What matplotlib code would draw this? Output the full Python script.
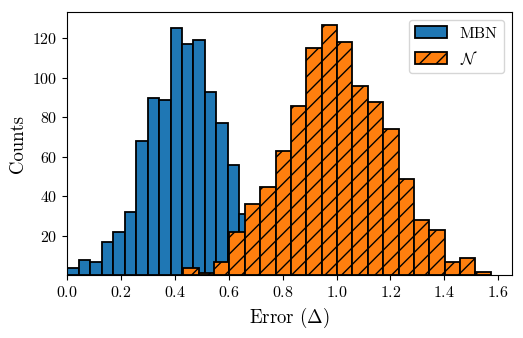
import matplotlib
matplotlib.use('Agg')
import matplotlib.pyplot as plt
import numpy as np

plt.rcParams['font.family'] = 'serif'
plt.rcParams['font.serif'] = ['cmr10']
plt.rcParams['mathtext.fontset'] = 'cm'
plt.rcParams['axes.formatter.use_mathtext'] = True
plt.rcParams['hatch.linewidth'] = 1.0

# histogram counts
mbn_start = 0.0
mbn_width = 0.0426
mbn_counts = [4, 8, 7, 17, 22, 32, 68, 90, 89, 125, 117, 119, 93, 77, 56, 31, 22, 13, 7, 3]

norm_start = 0.431
norm_width = 0.0571
norm_counts = [4, 1, 7, 22, 36, 45, 63, 86, 115, 127, 118, 96, 88, 74, 49, 28, 23, 7, 9, 2]

y_ticks = [20, 40, 60, 80, 100, 120]

mbn_edges = mbn_start + mbn_width * np.arange(len(mbn_counts) + 1)
norm_edges = norm_start + norm_width * np.arange(len(norm_counts) + 1)

fig = plt.figure(figsize=(5.23, 3.38), dpi=100)
ax = fig.add_axes([0.1287, 0.185, 0.8503, 0.7795])

ax.hist(mbn_edges[:-1], bins=mbn_edges, weights=mbn_counts,
        color='#1f77b4', edgecolor='black', linewidth=1.3, label='MBN')
ax.hist(norm_edges[:-1], bins=norm_edges, weights=norm_counts,
        color='#ff7f0e', edgecolor='black', linewidth=1.3, hatch='//', label=r'$\mathcal{N}$')

ax.set_xlim(left=0)
ax.set_yticks(y_ticks)
ax.set_xlabel(r'Error ($\Delta$)', fontsize=13.5)
ax.set_ylabel('Counts', fontsize=13.5)
ax.tick_params(labelsize=11.5)
ax.legend(fontsize=11.5)

fig.savefig('out.png', dpi=100)
